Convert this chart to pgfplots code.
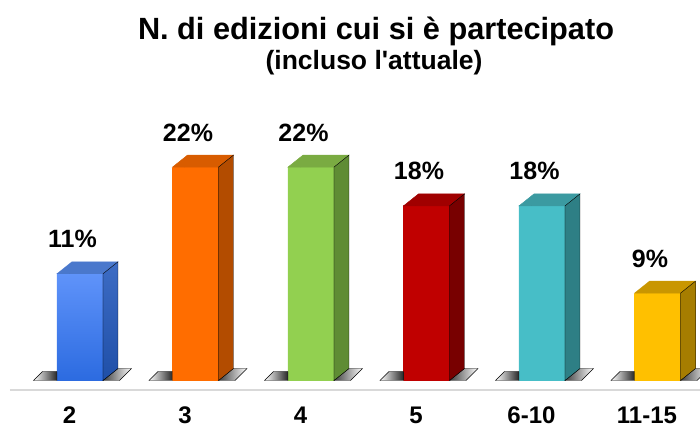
\documentclass[border=0pt]{standalone}
\usepackage{pgfplots}
\pgfplotsset{compat=1.18}
\usepackage{fontspec}
\setmainfont{Liberation Sans}

\definecolor{bluFT}{HTML}{5F93FA}\definecolor{bluFB}{HTML}{2C6BE0}
\definecolor{bluST}{HTML}{3D6CC4}\definecolor{bluSB}{HTML}{1F4FA8}\definecolor{bluTP}{HTML}{4A78CC}
\definecolor{oraF}{HTML}{FF6D00}\definecolor{oraS}{HTML}{B34C00}\definecolor{oraT}{HTML}{D85C00}
\definecolor{greF}{HTML}{92D050}\definecolor{greS}{HTML}{5F8C34}\definecolor{greT}{HTML}{7AAB42}
\definecolor{redF}{HTML}{C00000}\definecolor{redS}{HTML}{780000}\definecolor{redT}{HTML}{A00000}
\definecolor{teaF}{HTML}{47BEC7}\definecolor{teaS}{HTML}{2E7F85}\definecolor{teaT}{HTML}{3B9AA1}
\definecolor{yelF}{HTML}{FFC000}\definecolor{yelS}{HTML}{A67D00}\definecolor{yelT}{HTML}{C99600}

% #1 x, #2 y, #3 front top, #4 front bottom, #5 side top, #6 side bottom, #7 top face
\newcommand\barthreed[7]{%
  \addplot[scatter, only marks, mark=*, mark size=0pt, mark options={draw=none,fill=none},
    visualization depends on={rawy \as \ry},
    scatter/@pre marker code/.code={%
      \begin{scope}%
      \pgfmathsetlengthmacro\hb{-\ry*9.7pt}%
      \pgfmathsetlengthmacro\hs{-\ry*9.7pt+12pt}%
      \pgfmathsetlengthmacro\hsh{-\ry*9.7pt+9pt}%
      \shade[left color=white, right color=black!85] (-36pt,\hb) -- (-27pt,\hsh) -- (-12.5pt,\hsh) -- (-12.5pt,\hb) -- cycle;
      \shade[left color=black!75, right color=white] (33.5pt,\hb) -- (48.5pt,\hs) -- (62pt,\hs) -- (50pt,\hb) -- cycle;
      \fill[#7] (-12.5pt,0pt) -- (2.5pt,12pt) -- (48.5pt,12pt) -- (33.5pt,0pt) -- cycle;
      \shade[top color=#5, bottom color=#6] (33.5pt,0pt) -- (48.5pt,12pt) -- (48.5pt,\hs) -- (33.5pt,\hb) -- cycle;
    },
    scatter/@post marker code/.code={\end{scope}},
  ] coordinates {(#1,#2)};
  \addplot[ybar, bar width=46pt, bar shift=10.5pt, draw=none, top color=#3, bottom color=#4,
    nodes near coords={\pgfmathprintnumber[fixed,precision=0,assume math mode=true]{\pgfplotspointmeta}\%},
    every node near coord/.append style={font=\bfseries\fontsize{25}{30}\selectfont, anchor=base, yshift=26pt, xshift=3pt, text=black},
  ] coordinates {(#1,#2)};
}

\begin{document}
\begin{tikzpicture}
\path[use as bounding box] (0,0) rectangle (700pt,430pt);
\node[anchor=base, font=\bfseries\fontsize{30.7}{36}\selectfont] at (376pt,390pt) {N. di edizioni cui si è partecipato};
\node[anchor=base, font=\bfseries\fontsize{26.5}{30}\selectfont] at (374pt,360pt) {(incluso l\textquotesingle attuale)};
\begin{axis}[
  at={(10pt,40pt)}, anchor=south west,
  x=115.5pt, y=9.7pt,
  xmin=-0.515, xmax=5.459, ymin=-0.98, ymax=39.2,
  axis x line*=bottom, axis y line=none,
  x axis line style={draw=black!15, line width=2pt, -},
  xtick={0,1,2,3,4,5},
  xticklabels={\textbf{2},\textbf{3},\textbf{4},\textbf{5},\textbf{6-10},\textbf{11-15}},
  xtick style={draw=none},
  xticklabel style={font=\bfseries\fontsize{24}{28}\selectfont, anchor=base, yshift=-34pt},
  ytick=\empty,
  clip=false,
]
\barthreed{0}{11}{bluFT}{bluFB}{bluST}{bluSB}{bluTP}
\barthreed{1}{22}{oraF}{oraF}{oraS}{oraS}{oraT}
\barthreed{2}{22}{greF}{greF}{greS}{greS}{greT}
\barthreed{3}{18}{redF}{redF}{redS}{redS}{redT}
\barthreed{4}{18}{teaF}{teaF}{teaS}{teaS}{teaT}
\barthreed{5}{9}{yelF}{yelF}{yelS}{yelS}{yelT}
\end{axis}
\end{tikzpicture}
\end{document}
